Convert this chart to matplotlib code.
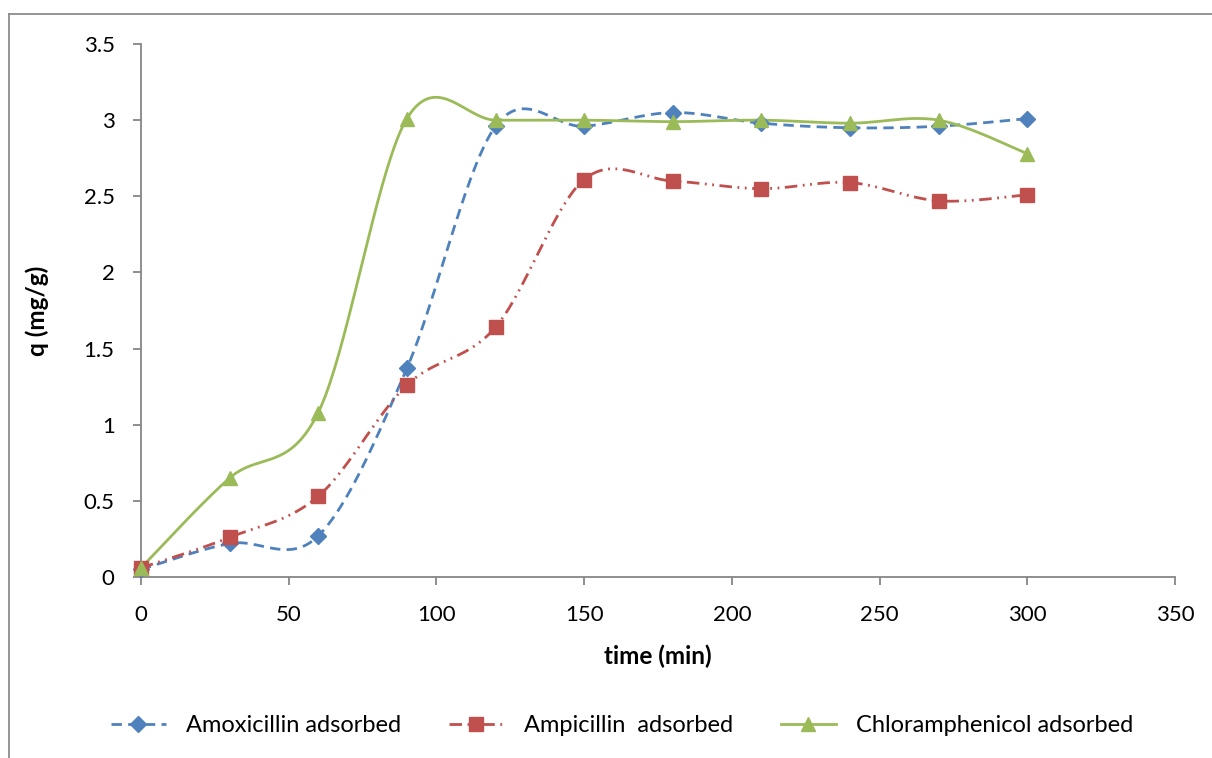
import numpy as np
import matplotlib
matplotlib.use("Agg")
import matplotlib.pyplot as plt
from matplotlib.lines import Line2D

plt.rcParams['font.family'] = ['Lato', 'DejaVu Sans']
plt.rcParams['lines.scale_dashes'] = False

time_min = [0, 30, 60, 90, 120, 150, 180, 210, 240, 270, 300]
amoxicillin = [0.05, 0.22, 0.27, 1.37, 2.96, 2.96, 3.05, 2.98, 2.95, 2.96, 3.01]
ampicillin = [0.06, 0.26, 0.53, 1.26, 1.64, 2.61, 2.60, 2.55, 2.59, 2.47, 2.51]
chloramphenicol = [0.06, 0.65, 1.08, 3.01, 3.00, 3.00, 2.99, 3.00, 2.98, 3.00, 2.78]

labels = ["Amoxicillin adsorbed", "Ampicillin  adsorbed", "Chloramphenicol adsorbed"]
colors = ["#4F81BD", "#C0504D", "#9BBB59"]
markers = ["D", "s", "^"]
msizes = [8, 9.5, 10.5]
styles = [(0, (7.5, 4.5)), (0, (9, 4, 1.3, 4, 1.3, 4)), "-"]


def smooth(x, y, n=40):
    """Cubic Bezier spline through the points (spreadsheet-style smoothing)."""
    p = np.column_stack([x, y]).astype(float)
    out = [p[0]]
    t = np.linspace(0, 1, n)[1:, None]
    for i in range(len(p) - 1):
        p0 = p[i - 1] if i > 0 else p[i]
        p1, p2 = p[i], p[i + 1]
        p3 = p[i + 2] if i + 2 < len(p) else p[i + 1]
        c1 = p1 + (p2 - p0) / 6.0
        c2 = p2 - (p3 - p1) / 6.0
        seg = ((1 - t) ** 3) * p1 + 3 * ((1 - t) ** 2) * t * c1 + 3 * (1 - t) * t ** 2 * c2 + t ** 3 * p2
        out.extend(seg)
    out = np.array(out)
    return out[:, 0], out[:, 1]


fig = plt.figure(figsize=(12.12, 7.58), dpi=100)
ax = fig.add_axes([141 / 1212, 1 - 577 / 758, (1175 - 141) / 1212, (577 - 44) / 758])

series = [amoxicillin, ampicillin, chloramphenicol]
handles = []
for ys, c, m, ms, ls, lab in zip(series, colors, markers, msizes, styles, labels):
    sx, sy = smooth(time_min, ys)
    ax.plot(sx, sy, color=c, lw=2.0, linestyle=ls, zorder=2, clip_on=False)
    ax.plot(time_min, ys, linestyle="none", marker=m, color=c, markersize=ms,
            markeredgecolor=c, zorder=3, clip_on=False)
    handles.append(Line2D([], [], color=c, lw=2.0, linestyle=ls, marker=m,
                          markersize=ms, markeredgecolor=c))

ax.set_xlim(0, 350)
ax.set_ylim(0, 3.5)
ax.set_xticks(np.arange(0, 351, 50))
ax.set_yticks(np.arange(0, 3.51, 0.5))
ax.set_yticklabels(["0", "0.5", "1", "1.5", "2", "2.5", "3", "3.5"])
for s in ["top", "right"]:
    ax.spines[s].set_visible(False)
for s in ["left", "bottom"]:
    ax.spines[s].set_color("#868686")
    ax.spines[s].set_linewidth(1.3)
ax.tick_params(direction="out", length=6, width=1.3, color="#868686",
               labelsize=16, labelcolor="black")
ax.tick_params(axis="y", pad=13)
ax.tick_params(axis="x", pad=14)
ax.set_xlabel("time (min)", fontsize=17.5, fontweight="bold", labelpad=14)
ax.set_ylabel("q (mg/g)", fontsize=17.5, fontweight="bold", labelpad=25)

fig.legend(handles, labels, loc="center", bbox_to_anchor=(622 / 1212, 1 - 726 / 758),
           ncol=3, frameon=False, fontsize=17, handlelength=2.35,
           columnspacing=2.0, handletextpad=0.85)

# outer chart frame
fig.add_artist(Line2D([8.5 / 1212, 8.5 / 1212], [0, 1 - 14 / 758], color="#8C8C8C", lw=1.3,
                      transform=fig.transFigure))
fig.add_artist(Line2D([8.5 / 1212, 1], [1 - 14 / 758, 1 - 14 / 758], color="#8C8C8C", lw=1.3,
                      transform=fig.transFigure))

fig.savefig("out.png", dpi=100, facecolor="white")
